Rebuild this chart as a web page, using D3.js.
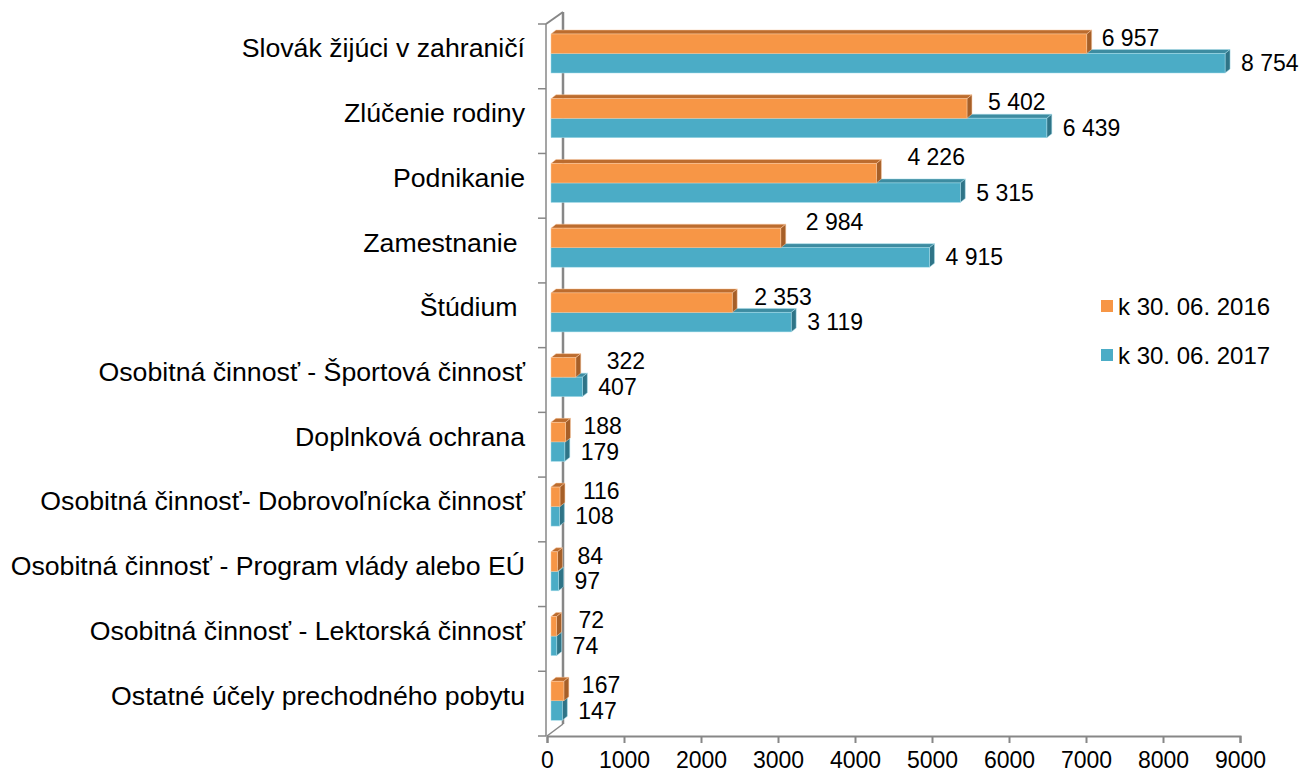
<!DOCTYPE html>
<html>
<head>
<meta charset="utf-8">
<script src="https://cdn.jsdelivr.net/npm/d3@7"></script>
<style>
  body { margin: 0; background: #fff; }
  text { font-family: "Liberation Sans", Arial, sans-serif; fill: #000; white-space: pre; }
</style>
</head>
<body>
<script>
// categories top to bottom
var categories = [
  "Slovák žijúci v zahraničí",
  "Zlúčenie rodiny",
  "Podnikanie",
  "Zamestnanie ",
  "Štúdium ",
  "Osobitná činnosť - Športová činnosť",
  "Doplnková ochrana",
  "Osobitná činnosť- Dobrovoľnícka činnosť",
  "Osobitná činnosť - Program vlády alebo EÚ",
  "Osobitná činnosť - Lektorská činnosť",
  "Ostatné účely prechodného pobytu"
];
var v2016 = [6957, 5402, 4226, 2984, 2353, 322, 188, 116, 84, 72, 167];
var v2017 = [8754, 6439, 5315, 4915, 3119, 407, 179, 108, 97, 74, 147];
var seriesNames = ["k 30. 06. 2016", "k 30. 06. 2017"];
var xTicks = [0, 1000, 2000, 3000, 4000, 5000, 6000, 7000, 8000, 9000];

// hand placed labels of the 2016 series (offsets in px)
var nudge2016 = [[-5, 0], [1, 0], [11, -10], [5, -10], [2, 0], [11, 0], [-2, 0], [3, 0], [0, 0], [2, 0], [-2, 0]];

var W = 1301, H = 774;
var svg = d3.select("body").append("svg").attr("width", W).attr("height", H);

var fmt = d3.formatLocale({decimal: ",", thousands: " ", grouping: [3], currency: ["", ""]}).format(",d");

//front plane scales
var x = d3.scaleLinear().domain([0, 9000]).range([547, 1240]);
var y = d3.scaleBand().domain(categories).range([24, 736]);

//wall depth and bar depth
var wdx = 16, wdy = 12, bdx = 5, bdy = 4;
var axisColor = "#878787";

var gAxis = svg.append("g");
//back wall line
gAxis.append("line").attr("x1", 547 + wdx).attr("y1", 24 - wdy).attr("x2", 547 + wdx).attr("y2", 736 - wdy)
  .attr("stroke", axisColor).attr("stroke-width", 2.5);
gAxis.append("line").attr("x1", 546).attr("y1", 24).attr("x2", 547 + wdx).attr("y2", 24 - wdy)
  .attr("stroke", axisColor).attr("stroke-width", 2);
gAxis.append("line").attr("x1", 547).attr("y1", 736).attr("x2", 547 + wdx).attr("y2", 736 - wdy)
  .attr("stroke", axisColor).attr("stroke-width", 1.5);
//front category axis
gAxis.append("line").attr("x1", 546).attr("y1", 24).attr("x2", 546).attr("y2", 736)
  .attr("stroke", axisColor).attr("stroke-width", 1.5);
var bounds = categories.map(function(c) { return y(c); }).concat([736]);
gAxis.selectAll(".ytick").data(bounds).enter().append("line")
  .attr("x1", 538).attr("x2", 546)
  .attr("y1", function(d) { return d; }).attr("y2", function(d) { return d; })
  .attr("stroke", axisColor).attr("stroke-width", 1.5);

//value axis
var xAxis = svg.append("g").attr("transform", "translate(0,736)")
  .call(d3.axisBottom(x).tickValues(xTicks).tickSize(7).tickPadding(9).tickFormat(d3.format("d")));
xAxis.select(".domain").attr("stroke", axisColor).attr("stroke-width", 2);
xAxis.selectAll(".tick line").attr("stroke", axisColor).attr("stroke-width", 2);
xAxis.selectAll(".tick text").attr("font-size", 23).attr("fill", "#000")
  .style("font-family", "'Liberation Sans', Arial, sans-serif");

//category labels
svg.selectAll(".cat").data(categories).enter().append("text")
  .attr("x", 525).attr("y", function(d) { return y(d) + y.bandwidth() / 2 - 8; })
  .attr("text-anchor", "end").attr("dominant-baseline", "central")
  .attr("font-size", 26.7).text(function(d) { return d; });

var styles = [
  {front: "#F79646", top: "#BC6C2E", side: "#A65F28", edge: "#FBC9A0"},
  {front: "#4BACC6", top: "#3D8CA1", side: "#2F7487", edge: "#A5DCEA"}
];
var barH = 19.5;

function bar3d(g, x0, x1, y0, st) {
  var y1 = y0 + barH;
  g.append("path").attr("d", "M" + x0 + "," + y0 + "L" + (x0 + bdx) + "," + (y0 - bdy) + "L" + (x1 + bdx) + "," + (y0 - bdy) + "L" + x1 + "," + y0 + "Z")
    .attr("fill", st.top).attr("stroke", st.edge).attr("stroke-width", 0.5);
  g.append("path").attr("d", "M" + x1 + "," + y0 + "L" + (x1 + bdx) + "," + (y0 - bdy) + "L" + (x1 + bdx) + "," + (y1 - bdy) + "L" + x1 + "," + y1 + "Z")
    .attr("fill", st.side).attr("stroke", st.edge).attr("stroke-width", 0.5);
  g.append("rect").attr("x", x0).attr("y", y0).attr("width", x1 - x0).attr("height", barH)
    .attr("fill", st.front).attr("stroke", st.edge).attr("stroke-width", 0.5);
}

var gBars = svg.append("g");
categories.forEach(function(c, i) {
  var top = y(c) + 10;
  var g = gBars.append("g");
  //2017 first, 2016 sits on it
  bar3d(g, x(0) + 4, x(v2017[i]) + 4, top + barH, styles[1]);
  bar3d(g, x(0) + 4, x(v2016[i]) + 4, top, styles[0]);
});

//value labels
svg.selectAll(".lab16").data(v2016).enter().append("text")
  .attr("x", function(d, i) { return x(d) + 4 + bdx + 15 + nudge2016[i][0]; })
  .attr("y", function(d, i) { return y(categories[i]) + 10 + barH / 2 - 6 + nudge2016[i][1]; })
  .attr("dominant-baseline", "central").attr("font-size", 23)
  .text(function(d) { return fmt(d); });
svg.selectAll(".lab17").data(v2017).enter().append("text")
  .attr("x", function(d) { return x(d) + 4 + bdx + 11; })
  .attr("y", function(d, i) { return y(categories[i]) + 10 + barH * 1.5; })
  .attr("dominant-baseline", "central").attr("font-size", 23)
  .text(function(d) { return fmt(d); });

//legend
var leg = svg.selectAll(".leg").data(seriesNames).enter().append("g")
  .attr("transform", function(d, i) { return "translate(1101," + (306 + i * 49) + ")"; });
leg.append("rect").attr("x", 0).attr("y", -6).attr("width", 12).attr("height", 12)
  .attr("fill", function(d, i) { return styles[i].front; });
leg.append("text").attr("x", 17).attr("y", 0).attr("dominant-baseline", "central")
  .attr("font-size", 24).text(function(d) { return d; });
</script>
</body>
</html>
